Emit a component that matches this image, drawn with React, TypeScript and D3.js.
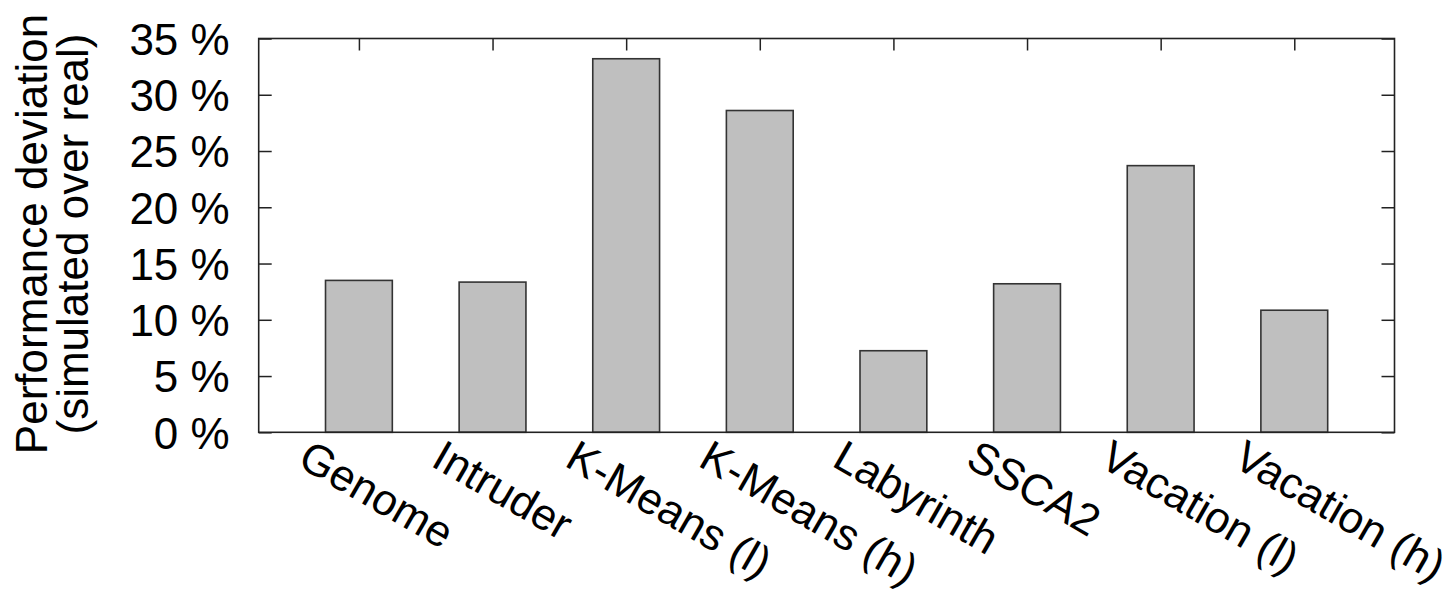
import * as d3 from "d3";
import { useEffect, useRef } from "react";

const categories = [
  "Genome",
  "Intruder",
  "K-Means (l)",
  "K-Means (h)",
  "Labyrinth",
  "SSCA2",
  "Vacation (l)",
  "Vacation (h)",
];
const deviation = [13.5, 13.35, 33.2, 28.6, 7.25, 13.2, 23.7, 10.85];
const yTicks = [0, 5, 10, 15, 20, 25, 30, 35];
const yLabelLines = ["Performance deviation", "(simulated over real)"];

export default function App() {
  const ref = useRef<SVGSVGElement | null>(null);

  useEffect(() => {
    const el = ref.current;
    if (!el) return;
    const svg = d3.select(el);
    svg.selectAll("*").remove();

    const W = 1455;
    const H = 595;
    const left = 258.7;
    const right = 1394.5;
    const top = 38.5;
    const bottom = 432.3;
    const font = "'Liberation Sans', Arial, Helvetica, sans-serif";
    const ink = "#222";

    const x = d3.scaleLinear().domain([-0.75, 7.75]).range([left, right]);
    const y = d3.scaleLinear().domain([0, 35]).range([bottom, top]);
    const bw = x(0.25) - x(-0.25);

    svg.attr("viewBox", `0 0 ${W} ${H}`);

    // y axis (left) with inward ticks
    svg
      .append("g")
      .attr("transform", `translate(${left},0)`)
      .call(
        d3
          .axisLeft(y)
          .tickValues(yTicks)
          .tickSize(-13)
          .tickPadding(29)
          .tickFormat((v) => `${v} %`),
      )
      .call((ga) => ga.select(".domain").remove())
      .call((ga) =>
        ga.selectAll(".tick line").attr("stroke", ink).attr("stroke-width", 1.5),
      )
      .call((ga) =>
        ga
          .selectAll(".tick text")
          .attr("fill", "#000")
          .attr("font-family", font)
          .attr("font-size", 44)
          .attr("dy", "0.36em"),
      );

    // mirrored ticks on the right
    svg
      .append("g")
      .attr("transform", `translate(${right},0)`)
      .call(d3.axisRight(y).tickValues(yTicks).tickSize(-13).tickFormat(() => ""))
      .call((ga) => ga.select(".domain").remove())
      .call((ga) =>
        ga.selectAll(".tick line").attr("stroke", ink).attr("stroke-width", 1.5),
      );

    // mirrored ticks on top
    svg
      .append("g")
      .attr("transform", `translate(0,${top})`)
      .call(
        d3
          .axisTop(x)
          .tickValues(d3.range(categories.length))
          .tickSize(-12)
          .tickFormat(() => ""),
      )
      .call((ga) => ga.select(".domain").remove())
      .call((ga) =>
        ga.selectAll(".tick line").attr("stroke", ink).attr("stroke-width", 1.5),
      );

    // bars
    svg
      .append("g")
      .selectAll("rect")
      .data(deviation)
      .join("rect")
      .attr("x", (_, i) => x(i) - bw / 2)
      .attr("width", bw)
      .attr("y", (d) => y(d))
      .attr("height", (d) => y(0) - y(d))
      .attr("fill", "#bfbfbf")
      .attr("stroke", "#333")
      .attr("stroke-width", 1.6);

    // frame
    svg
      .append("rect")
      .attr("x", left)
      .attr("y", top)
      .attr("width", right - left)
      .attr("height", bottom - top)
      .attr("fill", "none")
      .attr("stroke", ink)
      .attr("stroke-width", 1.6);

    // rotated category labels
    svg
      .append("g")
      .selectAll("text")
      .data(categories)
      .join("text")
      .attr(
        "transform",
        (_, i) => `translate(${x(i) - 63},${bottom + 33}) rotate(30)`,
      )
      .attr("font-family", font)
      .attr("font-size", 44)
      .attr("fill", "#000")
      .attr("text-anchor", "start")
      .text((d) => d);

    // y axis title (two lines)
    svg
      .append("g")
      .selectAll("text")
      .data(yLabelLines)
      .join("text")
      .attr("transform", (_, i) => `translate(${47 + i * 41},234) rotate(-90)`)
      .attr("font-family", font)
      .attr("font-size", 44)
      .attr("fill", "#000")
      .attr("text-anchor", "middle")
      .text((d) => d);
  }, []);

  return (
    <svg
      ref={ref}
      width={1455}
      height={595}
      style={{ position: "absolute", left: 0, top: 0, background: "#fff" }}
    />
  );
}
